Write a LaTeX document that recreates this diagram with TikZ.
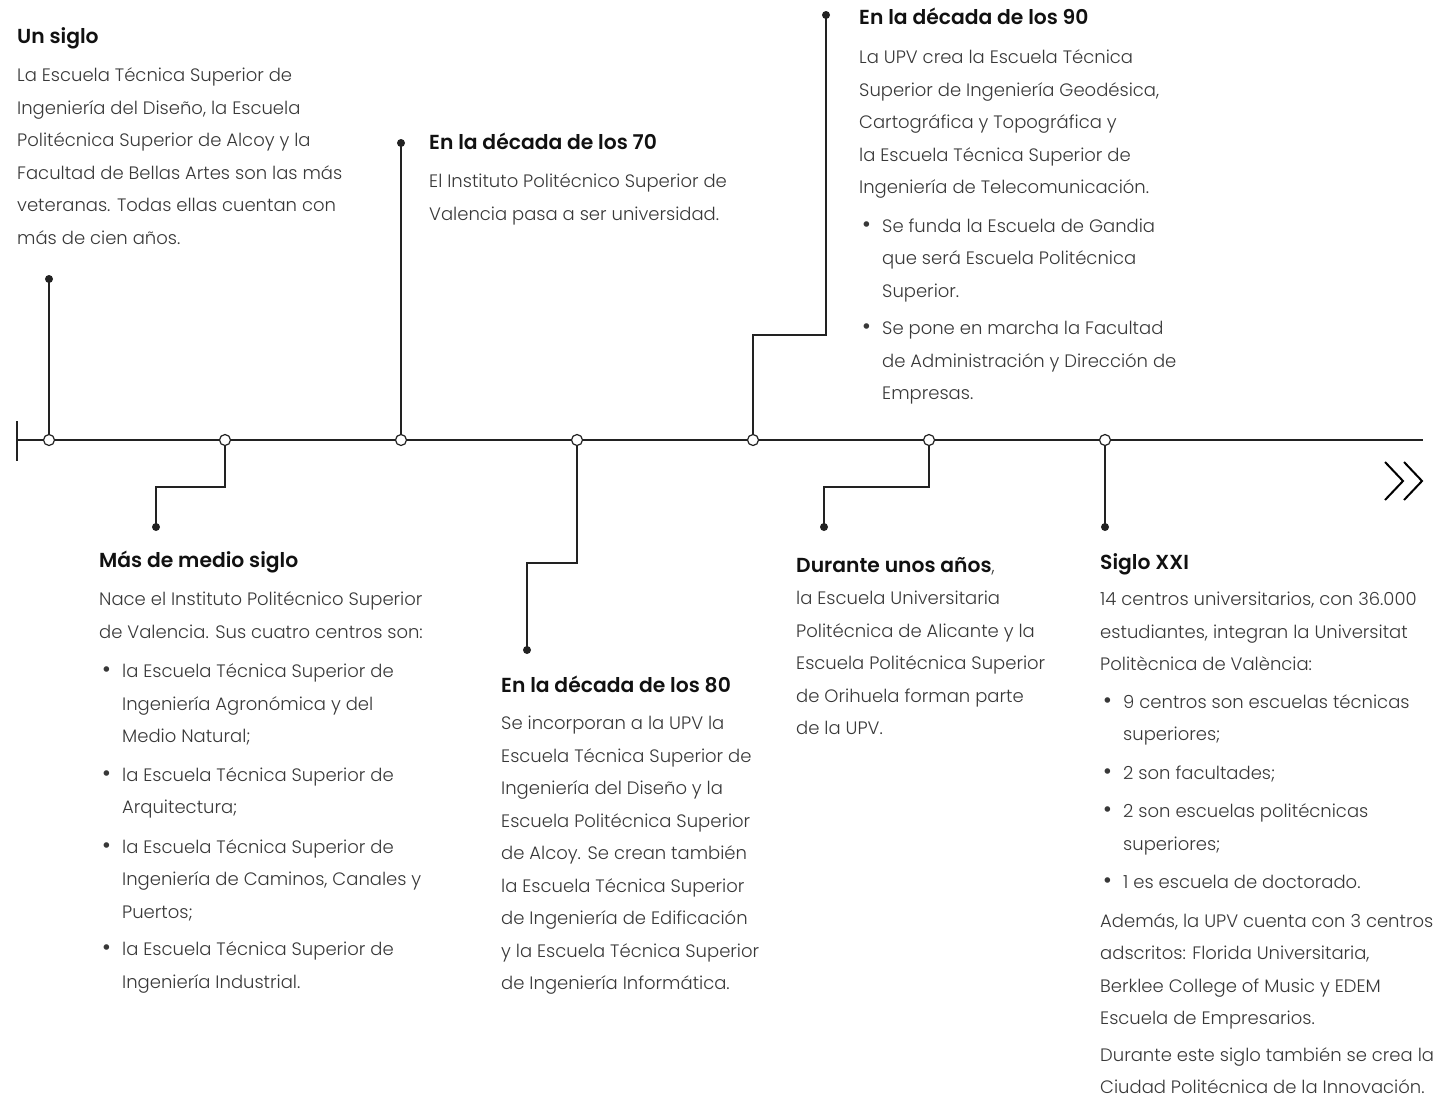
\documentclass[tikz,border=0pt]{standalone}
\usepackage{fontspec}
\setmainfont{Poppins}[UprightFont=* Light, BoldFont=* SemiBold]
\definecolor{bodytxt}{HTML}{383838}
\definecolor{headtxt}{HTML}{111111}
\definecolor{linec}{HTML}{222222}
\newcommand{\hd}[1]{{\fontsize{20.3}{32.5}\selectfont\bfseries\color{headtxt}#1}}
\newcommand{\bu}{\hspace*{3pt}\makebox[20pt][l]{\fontsize{24}{32.5}\selectfont•}}
\newcommand{\ci}{\hspace*{23pt}}
\begin{document}
\begin{tikzpicture}[x=1pt,y=-1pt,
  txt/.style={anchor=north west, inner sep=0pt, align=left, text=bodytxt,
     font=\fontsize{18}{32.5}\selectfont},
  opencirc/.style={circle, draw=linec, fill=white, line width=1.2pt, minimum size=11pt, inner sep=0pt},
  dotn/.style={circle, fill=linec, minimum size=8pt, inner sep=0pt},
  conn/.style={draw=linec, line width=1.4pt},
  mainl/.style={draw=linec, line width=2.8pt}
]
\useasboundingbox (0,0) rectangle (1439,1101);
% main line
\coordinate (tl0) at (17,440);
\coordinate (tl1) at (1423,440);
\coordinate (tk0) at (17,421);
\coordinate (tk1) at (17,461);
\draw[mainl] (tl0) -- (tl1);
\draw[mainl] (tk0) -- (tk1);
% circles
\node[opencirc] (c1) at (49,440) {};
\node[opencirc] (c2) at (225,440) {};
\node[opencirc] (c3) at (401,440) {};
\node[opencirc] (c4) at (577,440) {};
\node[opencirc] (c5) at (753,440) {};
\node[opencirc] (c6) at (929,440) {};
\node[opencirc] (c7) at (1105,440) {};
% dots
\node[dotn] (d1) at (49,279) {};
\node[dotn] (d2) at (156,527) {};
\node[dotn] (d3) at (401,143) {};
\node[dotn] (d4) at (527,650) {};
\node[dotn] (d5) at (826,15) {};
\node[dotn] (d6) at (824,527) {};
\node[dotn] (d7) at (1105,527) {};
% connectors
\draw[conn] (c1.north) -- (d1.center);
\draw[conn] (c2.south) -- (c2 |- 0,487) -| (d2.center);
\draw[conn] (c3.north) -- (d3.center);
\draw[conn] (c4.south) -- (c4 |- 0,563) -| (d4.center);
\draw[conn] (c5.north) -- (c5 |- 0,335) -| (d5.center);
\draw[conn] (c6.south) -- (c6 |- 0,487) -| (d6.center);
\draw[conn] (c7.south) -- (d7.center);
% arrow chevrons
\coordinate (a1) at (1385,462); \coordinate (a2) at (1403,481); \coordinate (a3) at (1385,500);
\coordinate (b1) at (1404,462); \coordinate (b2) at (1422,481); \coordinate (b3) at (1404,500);
\draw[draw=black, line width=2pt] (a1) -- (a2) -- (a3);
\draw[draw=black, line width=2pt] (b1) -- (b2) -- (b3);
% texts
\node[txt] (t1) at (17,20.3) {\strut\hd{Un siglo}\\[6pt]
La Escuela Técnica Superior de\\
Ingeniería del Diseño, la Escuela\\
Politécnica Superior de Alcoy y la\\
Facultad de Bellas Artes son las más\\
veteranas. Todas ellas cuentan con\\
más de cien años.};
\node[txt] (t3) at (429,126.3) {\strut\hd{En la década de los 70}\\[6pt]
El Instituto Politécnico Superior de\\
Valencia pasa a ser universidad.};
\node[txt] (t5) at (859,1.3) {\strut\hd{En la década de los 90}\\[7pt]
La UPV crea la Escuela Técnica\\
Superior de Ingeniería Geodésica,\\
Cartográfica y Topográfica y\\
la Escuela Técnica Superior de\\
Ingeniería de Telecomunicación.\\[6pt]
\bu Se funda la Escuela de Gandia\\
\ci que será Escuela Politécnica\\
\ci Superior.\\[5pt]
\bu Se pone en marcha la Facultad\\
\ci de Administración y Dirección de\\
\ci Empresas.};
\node[txt] (t2) at (99,544.3) {\strut\hd{Más de medio siglo}\\[6pt]
Nace el Instituto Politécnico Superior\\
de Valencia. Sus cuatro centros son:\\[7pt]
\bu la Escuela Técnica Superior de\\
\ci Ingeniería Agronómica y del\\
\ci Medio Natural;\\[6pt]
\bu la Escuela Técnica Superior de\\
\ci Arquitectura;\\[7pt]
\bu la Escuela Técnica Superior de\\
\ci Ingeniería de Caminos, Canales y\\
\ci Puertos;\\[5pt]
\bu la Escuela Técnica Superior de\\
\ci Ingeniería Industrial.};
\node[txt] (t4) at (501,669.3) {\strut\hd{En la década de los 80}\\[5pt]
Se incorporan a la UPV la\\
Escuela Técnica Superior de\\
Ingeniería del Diseño y la\\
Escuela Politécnica Superior\\
de Alcoy. Se crean también\\
la Escuela Técnica Superior\\
de Ingeniería de Edificación\\
y la Escuela Técnica Superior\\
de Ingeniería Informática.};
\node[txt] (t6) at (796,549.3) {\strut\hd{Durante unos años},\\
la Escuela Universitaria\\
Politécnica de Alicante y la\\
Escuela Politécnica Superior\\
de Orihuela forman parte\\
de la UPV.};
\node[txt] (t7) at (1100,546.3) {\strut\hd{Siglo XXI}\\[4pt]
14 centros universitarios, con 36.000\\
estudiantes, integran la Universitat\\
Politècnica de València:\\[5pt]
\bu 9 centros son escuelas técnicas\\
\ci superiores;\\[6pt]
\bu 2 son facultades;\\[6pt]
\bu 2 son escuelas politécnicas\\
\ci superiores;\\[6pt]
\bu 1 es escuela de doctorado.\\[6pt]
Además, la UPV cuenta con 3 centros\\
adscritos: Florida Universitaria,\\
Berklee College of Music y EDEM\\
Escuela de Empresarios.\\[4pt]
Durante este siglo también se crea la\\
Ciudad Politécnica de la Innovación.};
\end{tikzpicture}
\end{document}
